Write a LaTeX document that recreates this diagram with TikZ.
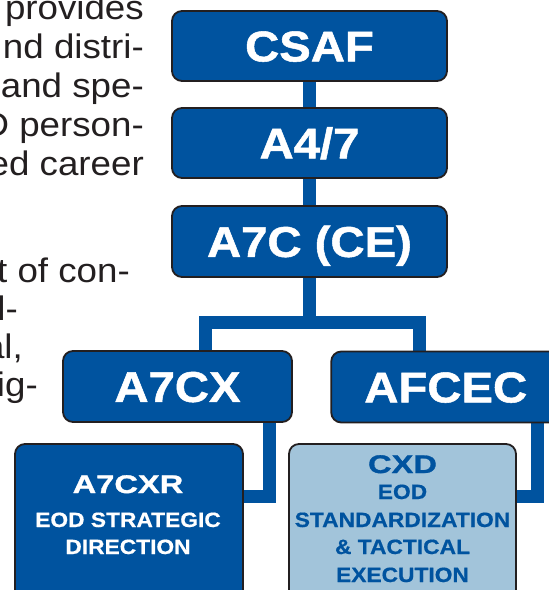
\documentclass[tikz,border=0pt]{standalone}
\usepackage{fontspec}
\setmainfont{Liberation Sans}
\newfontfamily\fbig{Liberation Sans}[FakeStretch=1.1, FakeBold=1.2]
\newfontfamily\fmid{Liberation Sans}[FakeStretch=1.28, FakeBold=1.2]
\newfontfamily\fsmall{Liberation Sans}[FakeStretch=1.1, FakeBold=0.6]
\newfontfamily\fbody{Liberation Sans}[FakeStretch=1.08]
\usetikzlibrary{backgrounds}
\definecolor{afblue}{HTML}{00539F}
\definecolor{lightbox}{HTML}{A2C4DA}
\definecolor{boxline}{HTML}{231F20}
\definecolor{textgray}{HTML}{231F20}
\begin{document}
\begin{tikzpicture}[x=1pt,y=-1pt,
  box/.style={draw=boxline, line width=1.8pt, rounded corners=10pt, fill=afblue, inner sep=0pt},
  bigbox/.style={box, minimum width=275pt, minimum height=70pt, text=white,
     font=\fbig\bfseries\fontsize{43}{43}\selectfont, text height=30.8pt, text depth=0pt},
  midbox/.style={bigbox, minimum width=229pt, minimum height=71pt},
  lowbox/.style={box, minimum width=228pt, minimum height=176pt},
  conn/.style={draw=afblue, line width=13pt, line join=miter},
  ltxt/.style={anchor=base east, inner sep=0pt, text=textgray, font=\fbody\fontsize{34}{39}\selectfont},
  ttl/.style={anchor=base, inner sep=0pt, font=\fmid\bfseries\fontsize{25.5}{25.5}\selectfont},
  sub/.style={anchor=base, inner sep=0pt, font=\fsmall\bfseries\fontsize{20.7}{20.7}\selectfont}
]
\useasboundingbox (0,0) rectangle (549,590);
\clip (0,0) rectangle (549,590);

% left text fragments
\node[ltxt] (l1) at (144,19) {provides};
\node[ltxt] (l2) at (144,58) {nd distri-};
\node[ltxt] (l3) at (144,97) {and spe-};
\node[ltxt] (l4) at (144,136) {EOD person-};
\node[ltxt] (l5) at (144,175) {ed career};
\node[ltxt] (l6) at (130,282) {t of con-};
\node[ltxt] (l7) at (18,320) {l-};
\node[ltxt] (l8) at (23,358) {al,};
\node[ltxt] (l9) at (38,396) {ig-};

% boxes
\node[bigbox] (csaf) at (309.5,46) {CSAF};
\node[bigbox] (a47) at (309.5,143) {A4/7};
\node[bigbox, minimum height=71pt] (a7c) at (309.5,241.5) {A7C (CE)};
\node[midbox] (a7cx) at (177.5,386.5) {A7CX};
\node[midbox] (afcec) at (445.75,387) {AFCEC};
\node[lowbox] (a7cxr) at (129,532) {};
\node[lowbox, fill=lightbox, minimum width=227pt] (cxd) at (402.5,532) {};

% texts of lower boxes
\node[ttl, text=white] (a7cxrt) at (128,493) {A7CXR};
\node[sub, text=white] (a7cxr1) at (128,527) {EOD STRATEGIC};
\node[sub, text=white] (a7cxr2) at (128,554) {DIRECTION};
\node[ttl, text=afblue] (cxdt) at (402.5,473) {CXD};
\node[sub, text=afblue] (cxd1) at (402.5,499) {EOD};
\node[sub, text=afblue] (cxd2) at (402.5,527) {STANDARDIZATION};
\node[sub, text=afblue] (cxd3) at (402.5,554) {\& TACTICAL};
\node[sub, text=afblue] (cxd4) at (402.5,582) {EXECUTION};

% connectors
\coordinate (jl) at (205.5,322.5);
\coordinate (jr) at (419,322.5);
\coordinate (k1) at (269,496.5);
\coordinate (k2) at (537.5,496);
\begin{scope}[on background layer]
\draw[conn] (csaf.south) -- (a47.north);
\draw[conn] (a47.south) -- (a7c.north);
\draw[conn] (a7c.south) -- (a7c.south |- jl);
\draw[conn] (a7cx.north -| jl) |- (jr) -- (afcec.north -| jr);
\draw[conn] (a7cx.south -| k1) |- (a7cxr.east |- k1);
\draw[conn] (afcec.south -| k2) |- (cxd.east |- k2);
\end{scope}
\end{tikzpicture}
\end{document}
